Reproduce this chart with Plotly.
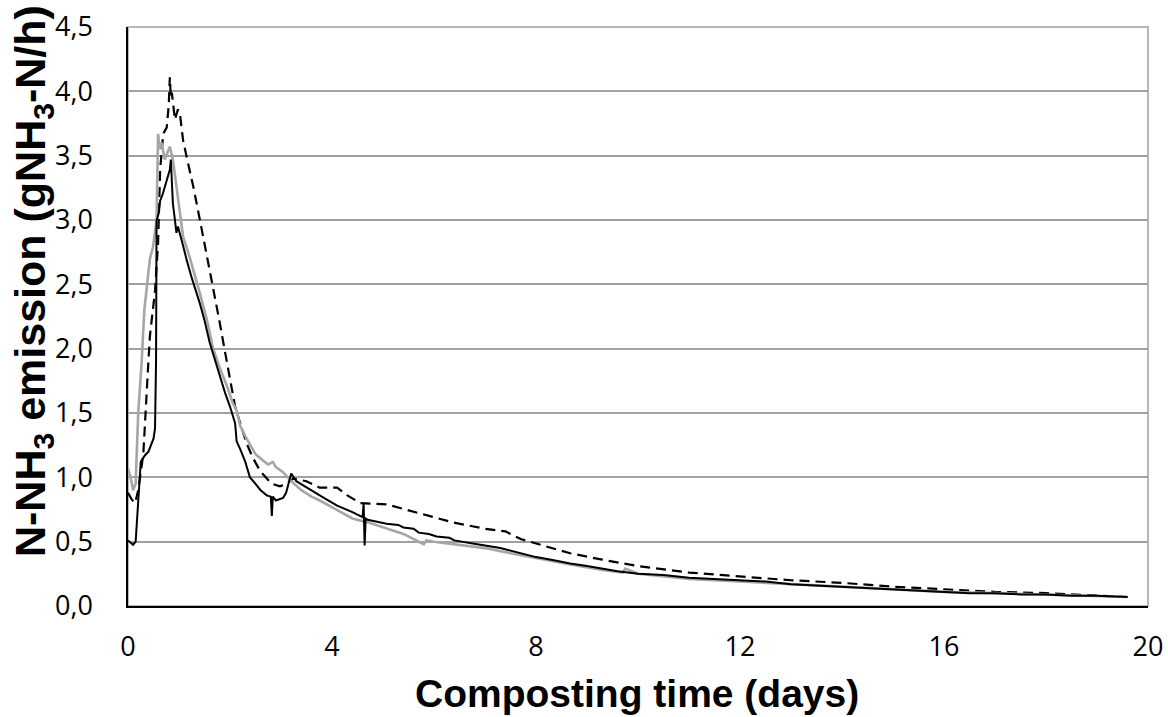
import plotly.graph_objects as go

# Series 1: black solid
t1 = [0, 0.05, 0.1, 0.15, 0.2, 0.25, 0.33, 0.4, 0.5, 0.53, 0.55, 0.56, 0.6, 0.63, 0.68, 0.72, 0.78, 0.82, 0.84, 0.86,
      0.88, 0.92, 0.95, 0.98, 1.02, 1.08, 1.15, 1.25, 1.41, 1.5, 1.6, 1.7, 1.8, 1.9, 2.0, 2.1, 2.13, 2.2, 2.3, 2.39,
      2.5, 2.6, 2.72, 2.8, 2.82, 2.84, 2.9, 3.04, 3.1, 3.2, 3.3, 3.5, 3.8, 4.1, 4.4, 4.6, 4.62, 4.64, 4.66, 4.7,
      5.07, 5.3, 5.4, 5.6, 5.7, 5.9, 6.05, 6.3, 6.4, 6.7, 6.9, 7.0, 7.3, 7.5, 7.8, 8.0, 8.3, 8.67, 9.0, 9.3,
      9.6, 10, 10.5, 11, 11.5, 12, 12.5, 13, 13.5, 14, 14.5, 15, 15.5, 16, 16.5, 17, 17.5, 18, 18.5, 19, 19.6]
v1 = [0.51, 0.49, 0.475, 0.5, 0.8, 1.12, 1.17, 1.2, 1.3, 1.38, 1.9, 2.99, 3.05, 3.15, 3.2, 3.26, 3.33, 3.39, 3.47, 3.3,
      3.13, 3.0, 2.9, 2.95, 2.88, 2.8, 2.69, 2.55, 2.35, 2.22, 2.05, 1.92, 1.8, 1.66, 1.55, 1.42, 1.28, 1.22, 1.12, 1.0,
      0.95, 0.9, 0.86, 0.85, 0.7, 0.85, 0.82, 0.84, 0.88, 1.03, 0.97, 0.92, 0.85, 0.78, 0.73, 0.69, 0.8, 0.47, 0.68, 0.67,
      0.64, 0.63, 0.61, 0.6, 0.57, 0.56, 0.54, 0.53, 0.51, 0.49, 0.48, 0.47, 0.45, 0.43, 0.4, 0.38, 0.36, 0.33, 0.31, 0.29,
      0.27, 0.25, 0.24, 0.22, 0.21, 0.2, 0.19, 0.17, 0.16, 0.15, 0.14, 0.13, 0.12, 0.11, 0.1, 0.1, 0.09, 0.09, 0.08, 0.08, 0.07]

# Series 2: grey solid
t2 = [0, 0.05, 0.1, 0.15, 0.2, 0.27, 0.32, 0.37, 0.43, 0.49, 0.52, 0.56, 0.59, 0.62, 0.66, 0.72, 0.77, 0.82, 0.88, 0.96,
      1.02, 1.08, 1.21, 1.41, 1.55, 1.67, 1.8, 1.95, 2.05, 2.13, 2.2, 2.3, 2.39, 2.5, 2.65, 2.75, 2.84, 2.9, 3.04, 3.2,
      3.4, 3.6, 3.76, 4.0, 4.4, 4.7, 5.07, 5.4, 5.8, 5.85, 6.0, 6.4, 7.0, 7.5, 8.0, 8.7, 9.3, 9.7, 9.75, 10,
      11, 12, 13, 14, 15, 16, 17, 18, 19, 19.6]
v2 = [1.07, 1.0, 0.9, 0.95, 1.5, 1.91, 2.3, 2.48, 2.7, 2.79, 2.9, 3.0, 3.67, 3.55, 3.6, 3.47, 3.52, 3.57, 3.47, 3.21,
      3.05, 2.87, 2.71, 2.43, 2.22, 2.0, 1.85, 1.7, 1.58, 1.52, 1.4, 1.32, 1.26, 1.18, 1.13, 1.1, 1.12, 1.08, 1.04, 0.97,
      0.9, 0.85, 0.82, 0.77, 0.68, 0.65, 0.6, 0.56, 0.48, 0.51, 0.5, 0.48, 0.45, 0.41, 0.37, 0.32, 0.28, 0.26, 0.29, 0.25,
      0.21, 0.19, 0.17, 0.15, 0.13, 0.11, 0.1, 0.09, 0.08, 0.07]

# Series 3: black dashed
t3 = [0, 0.07, 0.14, 0.2, 0.3, 0.35, 0.4, 0.43, 0.48, 0.53, 0.59, 0.63, 0.69, 0.76, 0.8, 0.82, 0.84, 0.86, 0.92, 0.98,
      1.02, 1.08, 1.15, 1.28, 1.41, 1.54, 1.67, 1.8, 1.9, 2.0, 2.1, 2.2, 2.33, 2.45, 2.59, 2.7, 2.82, 2.98, 3.1, 3.24,
      3.5, 3.76, 4.1, 4.3, 4.55, 5.07, 5.7, 6.37, 7.0, 7.4, 7.7, 8.3, 8.67, 9.3, 10, 11, 12, 13, 14, 15,
      16, 17, 18, 19, 19.6]
v3 = [0.88, 0.83, 0.8, 0.9, 1.18, 1.6, 1.9, 2.1, 2.3, 2.45, 2.82, 3.39, 3.67, 3.72, 3.9, 4.11, 3.95, 3.99, 3.78, 3.86,
      3.82, 3.62, 3.49, 3.26, 3.0, 2.74, 2.48, 2.2, 1.98, 1.75, 1.55, 1.42, 1.26, 1.15, 1.05, 1.0, 0.95, 0.93, 0.95, 0.99,
      0.97, 0.92, 0.92, 0.86, 0.8, 0.79, 0.72, 0.65, 0.6, 0.58, 0.52, 0.45, 0.41, 0.36, 0.31, 0.26, 0.23, 0.2, 0.18, 0.15,
      0.13, 0.11, 0.1, 0.08, 0.07]

x_ticks = [0, 4, 8, 12, 16, 20]
y_ticks = [0, 0.5, 1.0, 1.5, 2.0, 2.5, 3.0, 3.5, 4.0, 4.5]

x_title = "Composting time (days)"
y_title = "N-NH<sub>3</sub> emission (gNH<sub>3</sub>-N/h)"

assert len(t1) == len(v1) and len(t2) == len(v2) and len(t3) == len(v3)

W, H = 1168, 717
L, R, T, B = 128, 20, 27, 111

fig = go.Figure()
fig.add_trace(go.Scatter(x=t3, y=v3, mode="lines", line=dict(color="black", width=2.2, dash="10px,6px"), showlegend=False))
fig.add_trace(go.Scatter(x=t2, y=v2, mode="lines", line=dict(color="#a6a6a6", width=2.6), showlegend=False))
fig.add_trace(go.Scatter(x=t1, y=v1, mode="lines", line=dict(color="black", width=2), showlegend=False))

fig.add_shape(type="rect", xref="paper", yref="paper", x0=0, y0=0, x1=1, y1=1,
              line=dict(color="#a0a0a0", width=1.5), layer="below")

pw, ph = W - L - R, H - T - B
fig.add_annotation(text="<b>" + x_title + "</b>", xref="paper", yref="paper",
                   x=(637 - L) / pw, y=-(693 - (T + ph)) / ph, showarrow=False,
                   xanchor="center", yanchor="middle",
                   font=dict(family="Liberation Sans, Arial", size=39, color="black"))
fig.add_annotation(text="<b>" + y_title + "</b>", xref="paper", yref="paper",
                   x=-(L - 33) / pw, y=(T + ph - 281) / ph, showarrow=False, textangle=-90,
                   xanchor="center", yanchor="middle",
                   font=dict(family="Liberation Sans, Arial", size=43, color="black"))

fig.update_layout(
    width=W, height=H,
    margin=dict(l=L, r=R, t=T, b=B, autoexpand=False),
    paper_bgcolor="white", plot_bgcolor="white",
    separators=",.",
    xaxis=dict(range=[0, 20], tickvals=x_ticks, ticks="", showgrid=False, zeroline=False, automargin=False,
               showline=True, linecolor="black", linewidth=1.5, ticklabelstandoff=16,
               tickfont=dict(family="Open Sans, Liberation Sans", size=27, color="black")),
    yaxis=dict(range=[0, 4.5], tickvals=y_ticks, tickformat=".1f", ticks="", showgrid=True, automargin=False,
               gridcolor="#a0a0a0", gridwidth=1.5, zeroline=False,
               showline=True, linecolor="black", linewidth=1.5, ticklabelstandoff=28,
               tickfont=dict(family="Open Sans, Liberation Sans", size=27, color="black")),
)

fig.write_html("out.html", config={"displayModeBar": False},
               post_script="document.body.style.margin='0px';document.body.style.overflow='hidden';")
